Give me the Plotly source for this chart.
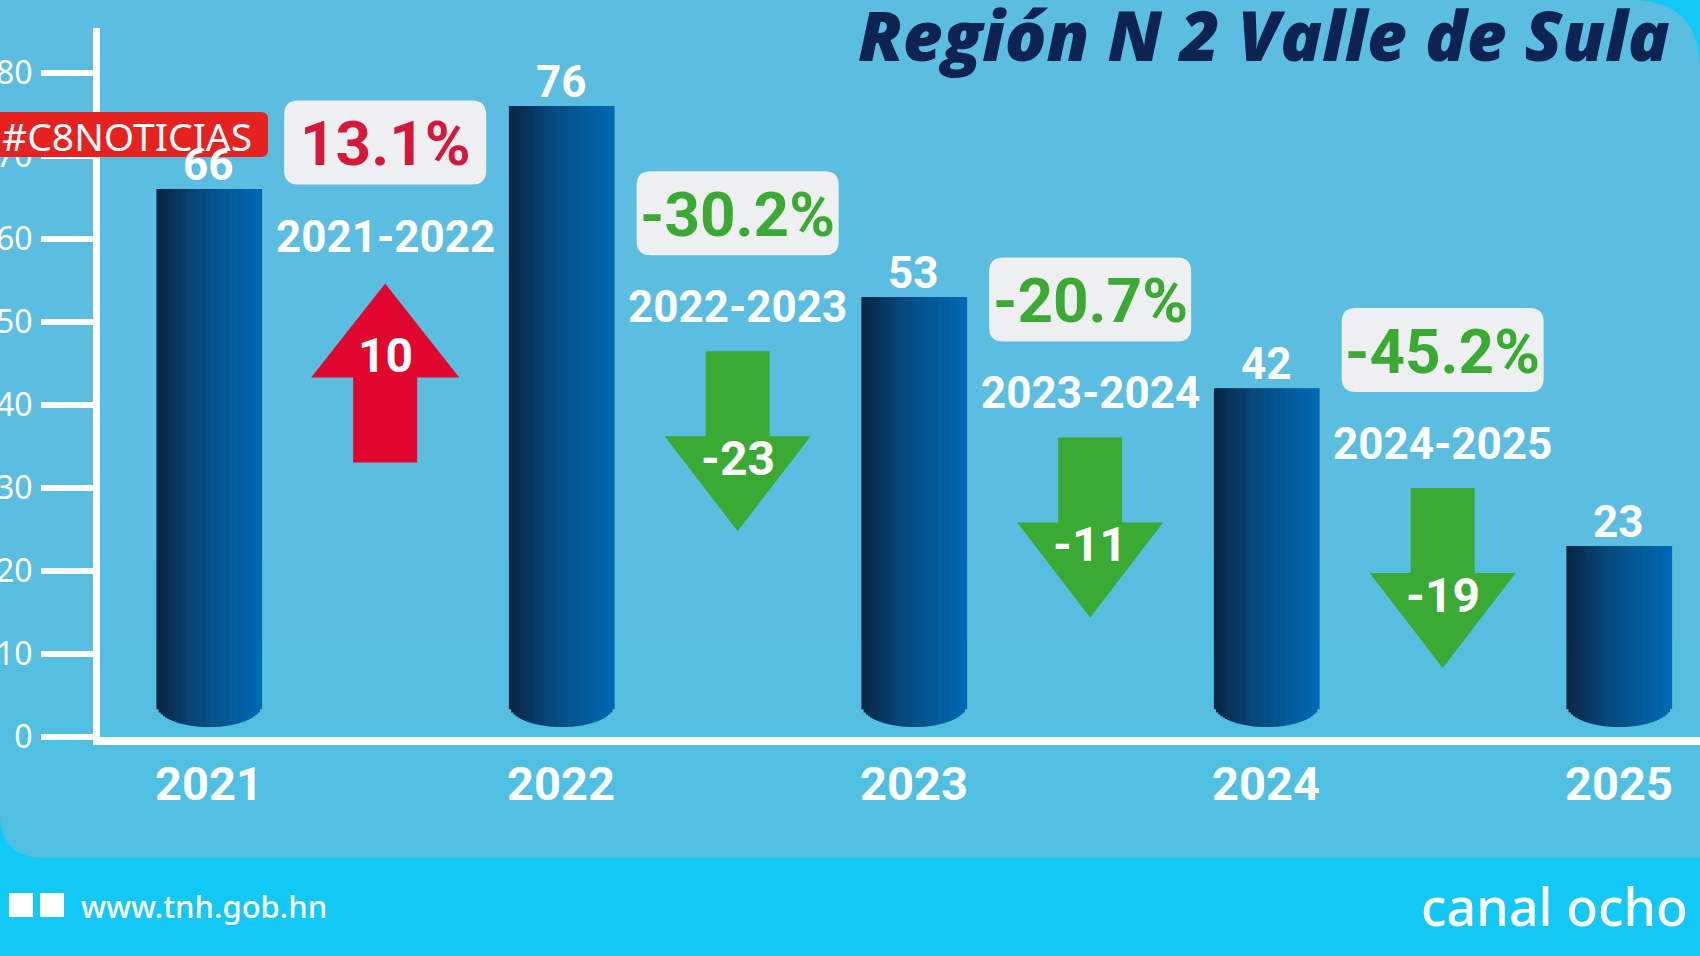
import plotly.graph_objects as go

# data
years = ["2021", "2022", "2023", "2024", "2025"]
cases = [66, 76, 53, 42, 23]
periods = ["2021-2022", "2022-2023", "2023-2024", "2024-2025"]
pct_change = ["13.1%", "-30.2%", "-20.7%", "-45.2%"]
abs_change = ["10", "-23", "-11", "-19"]
y_ticks = [0, 10, 20, 30, 40, 50, 60, 70, 80]

# styling / layout
W, H = 1700, 956
ML, MR, MT, MB = 100, 0, 28, 219
YMAX = 85.4
COND = "Roboto"
RED, GREEN, BOX = "#e0062d", "#3aaa35", "#eeeff0"
PANEL, BANNER = "#5bbde0", "#12c8f7"
box_y = [71.6, 63.1, 52.7, 46.6]  # box centre height (axis units) per change


def px2x(p):
    return (p - ML) / (W - ML - MR)


def py2y(p):
    return (H - MB - p) / (H - MT - MB)


def lerp(c1, c2, t):
    a = [int(c1[i:i + 2], 16) for i in (1, 3, 5)]
    b = [int(c2[i:i + 2], 16) for i in (1, 3, 5)]
    return "rgb(%d,%d,%d)" % tuple(round(a[k] + (b[k] - a[k]) * t) for k in range(3))


def bar_color(t):
    if t < 0.4:
        return lerp("#0a2443", "#07497f", t / 0.4)
    return lerp("#07497f", "#006ab5", (t - 0.4) / 0.6)


fig = go.Figure()

# cylinders: each bar is split into thin slices to get a left-right gradient
n = 48
bw = 0.298
dw = bw / n
ell_c, ell_r = 3.9, 2.7
for k in range(n):
    t = (k + 0.5) / n
    u = 2 * t - 1
    base = ell_c - ell_r * (1 - u * u) ** 0.5
    fig.add_trace(go.Bar(
        x=years, y=[v - base for v in cases], base=base,
        offset=-bw / 2 + k * dw, width=dw * 1.3,
        marker=dict(color=bar_color(t), line=dict(width=0)),
        showlegend=False, hoverinfo="skip"))

shapes = []
annotations = []

# background panel
r1, r2 = 45, 70
shapes.append(dict(
    type="path", xref="paper", yref="paper", layer="below", line=dict(width=0),
    fillcolor=PANEL,
    path=(f"M {px2x(0)},{py2y(0)} L {px2x(W - r2)},{py2y(0)} "
          f"Q {px2x(W)},{py2y(0)} {px2x(W)},{py2y(r2)} "
          f"L {px2x(W)},{py2y(858)} L {px2x(r1)},{py2y(858)} "
          f"Q {px2x(0)},{py2y(858)} {px2x(0)},{py2y(858 - r1)} Z")))
for top, op in [(560, 0.05), (640, 0.07), (720, 0.09)]:
    shapes.append(dict(
        type="path", xref="paper", yref="paper", layer="below", line=dict(width=0),
        fillcolor="#2fd0f0", opacity=op,
        path=(f"M {px2x(0)},{py2y(top)} L {px2x(W)},{py2y(top)} "
              f"L {px2x(W)},{py2y(858)} L {px2x(r1)},{py2y(858)} "
              f"Q {px2x(0)},{py2y(858)} {px2x(0)},{py2y(858 - r1)} Z")))

# bar value labels and year labels (category index on the x axis)
for i, (yr, v) in enumerate(zip(years, cases)):
    annotations.append(dict(
        x=i, y=v, xref="x", yref="y", text=str(v), showarrow=False,
        yanchor="middle", yshift=24,
        font=dict(family=COND, size=44, color="white", weight="bold")))
    annotations.append(dict(
        x=i, y=0, xref="x", yref="y", text=yr, showarrow=False,
        yanchor="middle", yshift=-46,
        font=dict(family=COND, size=47, color="white", weight="bold")))

# change boxes, period labels, arrows
for i in range(len(periods)):
    xc = i + 0.5
    up = not abs_change[i].startswith("-")
    col = RED if up else GREEN
    hw, hh, rr = 101, 42, 14
    shapes.append(dict(
        type="path", xref="x", yref="y", xsizemode="pixel", ysizemode="pixel",
        xanchor=xc, yanchor=box_y[i], fillcolor=BOX, line=dict(width=0),
        path=(f"M {-hw + rr},{hh} L {hw - rr},{hh} Q {hw},{hh} {hw},{hh - rr} "
              f"L {hw},{-hh + rr} Q {hw},{-hh} {hw - rr},{-hh} "
              f"L {-hw + rr},{-hh} Q {-hw},{-hh} {-hw},{-hh + rr} "
              f"L {-hw},{hh - rr} Q {-hw},{hh} {-hw + rr},{hh} Z")))
    annotations.append(dict(
        x=xc, y=box_y[i], xref="x", yref="y", text=pct_change[i], showarrow=False,
        font=dict(family=COND, size=62, color="#d4173a" if up else GREEN, weight="bold"),
        yshift=-1))
    annotations.append(dict(
        x=xc, y=box_y[i], xref="x", yref="y", text=periods[i], showarrow=False,
        font=dict(family=COND, size=44, color="white", weight="bold"), yshift=-94))
    if up:
        path = ("M 0,-141 L 74,-235 L 32,-235 L 32,-320 L -32,-320 "
                "L -32,-235 L -74,-235 Z")
        ny = -213
    else:
        path = ("M -32,-138 L 32,-138 L 32,-223 L 73,-223 L 0,-318 "
                "L -73,-223 L -32,-223 Z")
        ny = -245
    shapes.append(dict(
        type="path", xref="x", yref="y", xsizemode="pixel", ysizemode="pixel",
        xanchor=xc, yanchor=box_y[i], fillcolor=col, line=dict(width=0), path=path))
    annotations.append(dict(
        x=xc, y=box_y[i], xref="x", yref="y", text=abs_change[i], showarrow=False,
        font=dict(family=COND, size=48, color="white", weight="bold"), yshift=ny))

# title
annotations.append(dict(
    x=px2x(1672), y=py2y(34), xref="paper", yref="paper", xanchor="right",
    yanchor="middle", showarrow=False, text="Región N 2 Valle de Sula",
    font=dict(family="Open Sans", size=69, color="#0d2452", weight=800, style="italic")))

# hashtag
shapes.append(dict(
    type="path", xref="paper", yref="paper", line=dict(width=0), fillcolor="#e5221f",
    path=(f"M {px2x(0)},{py2y(112)} L {px2x(261)},{py2y(112)} "
          f"Q {px2x(268)},{py2y(112)} {px2x(268)},{py2y(119)} "
          f"L {px2x(268)},{py2y(150)} Q {px2x(268)},{py2y(157)} {px2x(261)},{py2y(157)} "
          f"L {px2x(0)},{py2y(157)} Z")))
annotations.append(dict(
    x=px2x(0), y=py2y(135), xref="paper", yref="paper", xanchor="left",
    yanchor="middle", showarrow=False, text="#C8NOTICIAS",
    font=dict(family="Noto Sans", size=39, color="white")))

# footer
for x0 in (9, 40):
    shapes.append(dict(type="rect", xref="paper", yref="paper",
                       x0=px2x(x0), x1=px2x(x0 + 24), y0=py2y(893), y1=py2y(917),
                       fillcolor="white", line=dict(width=0)))
annotations.append(dict(
    x=px2x(79), y=py2y(906), xref="paper", yref="paper", xanchor="left",
    yanchor="middle", showarrow=False, text="www.tnh.gob.hn",
    font=dict(family="Noto Sans", size=31, color="white", weight=500)))
annotations.append(dict(
    x=px2x(1690), y=py2y(905), xref="paper", yref="paper", xanchor="right",
    yanchor="middle", showarrow=False, text="canal ocho",
    font=dict(family="Noto Sans", size=52, color="white", weight=500)))

fig.update_layout(
    width=W, height=H, margin=dict(l=ML, r=MR, t=MT, b=MB, autoexpand=False),
    paper_bgcolor=BANNER, plot_bgcolor="rgba(0,0,0,0)",
    barmode="overlay", showlegend=False,
    shapes=shapes, annotations=annotations,
    xaxis=dict(type="category", categoryorder="array", categoryarray=years,
               range=[-0.309, 4.23], showgrid=False, zeroline=False,
               showline=True, linecolor="white", linewidth=8, ticks="",
               showticklabels=False, automargin=False),
    yaxis=dict(range=[0, YMAX], tickvals=y_ticks, showgrid=False, zeroline=False,
               showline=True, linecolor="white", linewidth=7,
               ticks="outside", ticklen=52, tickwidth=6, tickcolor="white",
               ticklabelstandoff=2, automargin=False,
               tickfont=dict(family="Noto Sans", size=32, color="white")),
)

fig.write_html("out.html", config={"displayModeBar": False},
               post_script="document.body.style.margin='0';")
